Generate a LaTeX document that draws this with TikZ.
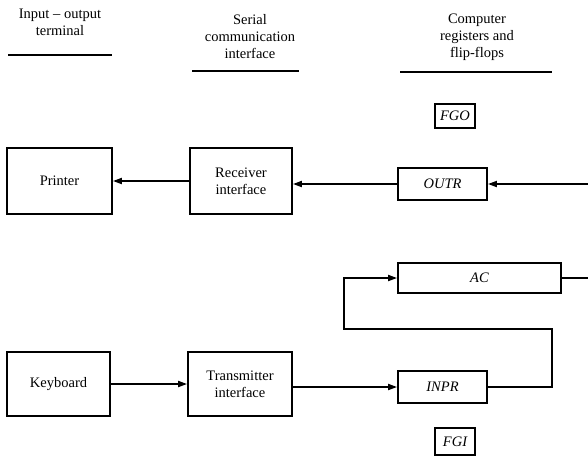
\documentclass[tikz,border=0pt]{standalone}
\usepackage{fontspec}
\setmainfont{Liberation Serif}
\usetikzlibrary{arrows.meta,positioning}

\begin{document}
\begin{tikzpicture}[
  x=1pt, y=-1pt,
  every node/.style={font=\fontsize{14.5}{17}\selectfont},
  heading/.style={align=center, inner sep=0pt, anchor=north},
  unit/.style={rectangle, draw, line width=1.8pt, minimum width=104pt,
    minimum height=66pt, align=center, inner sep=0pt},
  register/.style={rectangle, draw, line width=1.8pt, minimum width=89pt,
    minimum height=32pt, inner sep=0pt, font=\fontsize{14.5}{17}\selectfont\itshape},
  flag/.style={register, minimum width=40pt, minimum height=24pt},
  arrow/.style={-{Triangle[length=9pt,width=6pt]}, line width=1.8pt},
  wire/.style={line width=1.8pt},
  rule/.style={line width=1.8pt},
]
\useasboundingbox (0,0) rectangle (588,456);

% Column headings
\node[heading] (termhead) at (60,9) {Input -- output\\terminal};
\node[heading] (serhead) at (250,14) {Serial\\communication\\interface};
\node[heading] (reghead) at (477,14) {Computer\\registers and\\flip-flops};
\draw[rule] (8,55) -- (112,55);
\draw[rule] (192,71) -- (299,71);
\draw[rule] (400,72) -- (552,72);

% Output side
\node[flag] (fgo) at (455,116) {FGO};
\node[unit, minimum width=105pt] (printer) at (59.5,181) {Printer};
\node[unit, minimum width=102pt] (receiver) at (241,181) {Receiver\\interface};
\node[register] (outr) at (442.5,184) {OUTR};
\coordinate (outin) at (588,184);

% Accumulator
\node[register, minimum width=163pt, minimum height=30pt] (ac) at (479.5,278) {AC};
\coordinate (acout) at (588,278);

% Input side
\node[unit, minimum width=103pt, minimum height=64pt] (keyboard) at (58.5,384) {Keyboard};
\node[unit, minimum height=64pt] (transmitter) at (240,384) {Transmitter\\interface};
\node[register] (inpr) at (442.5,387) {INPR};
\node[flag, minimum height=27pt] (fgi) at (455,441.5) {FGI};

% Arrows
\draw[arrow] (outin) -- (outr.east);
\draw[arrow] (outr.west) -- (receiver.east |- outr.west);
\draw[arrow] (receiver.west) -- (printer.east);
\draw[wire] (ac.east) -- (acout);
\draw[arrow] (keyboard.east) -- (transmitter.west);
\draw[arrow] (transmitter.east |- inpr.west) -- (inpr.west);
\draw[arrow] (inpr.east) -| (552,329) -- (344,329) |- (ac.west);
\end{tikzpicture}
\end{document}
